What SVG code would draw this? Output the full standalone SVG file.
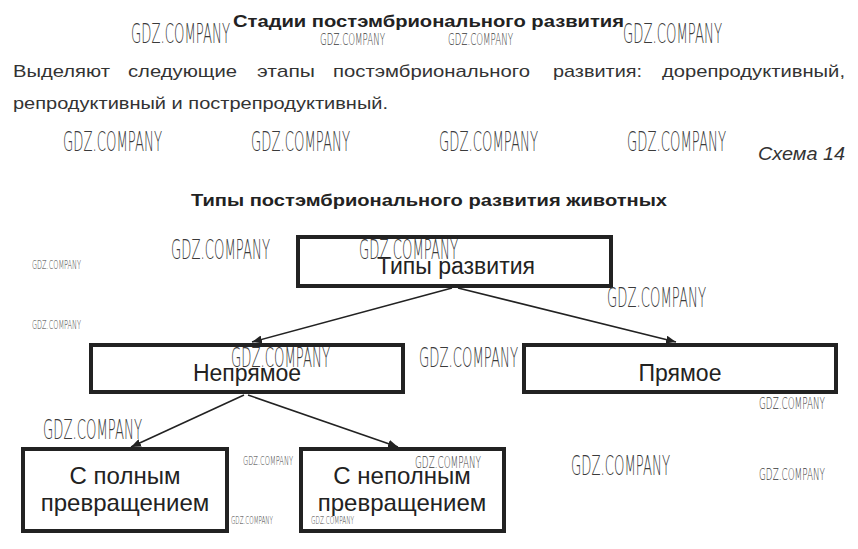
<svg xmlns="http://www.w3.org/2000/svg" width="858" height="549" viewBox="0 0 858 549">
<style>
.bg{fill:#fff}
.h{font-family:"Liberation Sans",Arial,sans-serif;font-weight:bold;font-size:17px;fill:#222}
.p{font-family:"Liberation Sans",Arial,sans-serif;font-size:17px;fill:#333}
.it{font-family:"Liberation Sans",Arial,sans-serif;font-style:italic;font-size:18px;fill:#333}
.box{fill:#fff;stroke:#222;stroke-width:4}
.nt{font-family:"Liberation Sans",Arial,sans-serif;font-size:23px;fill:#222;text-anchor:middle}
.nb{font-family:"Liberation Sans",Arial,sans-serif;font-size:24px;fill:#222;text-anchor:middle}
.edge{stroke:#222;stroke-width:1.6;fill:none;marker-end:url(#ah)}
.wm{font-family:"DejaVu Sans ExtraLight","DejaVu Sans",sans-serif;font-weight:200;fill:#3a3a3a}
.wl{font-size:26px}
.wmd{font-size:16px}
.ws{font-size:12px}
.wt{font-size:10px}
</style>
<defs>
<marker id="ah" viewBox="0 0 10 8" refX="10" refY="4" markerWidth="10" markerHeight="8" markerUnits="userSpaceOnUse" orient="auto">
<path d="M0,0 L10,4 L0,8 Z" fill="#222"/>
</marker>
</defs>
<rect class="bg" x="0" y="0" width="858" height="549"/>

<g id="heading">
<text class="h" x="233" y="27" textLength="391" lengthAdjust="spacingAndGlyphs">Стадии постэмбрионального развития</text>
<text class="p" y="77"><tspan x="13" textLength="97" lengthAdjust="spacingAndGlyphs">Выделяют</tspan><tspan x="128" textLength="109" lengthAdjust="spacingAndGlyphs">следующие</tspan><tspan x="257" textLength="58" lengthAdjust="spacingAndGlyphs">этапы</tspan><tspan x="333" textLength="197" lengthAdjust="spacingAndGlyphs">постэмбрионального</tspan><tspan x="553" textLength="89" lengthAdjust="spacingAndGlyphs">развития:</tspan><tspan x="662" textLength="183" lengthAdjust="spacingAndGlyphs">дорепродуктивный,</tspan></text>
<text class="p" x="13" y="109" textLength="375" lengthAdjust="spacingAndGlyphs">репродуктивный и пострепродуктивный.</text>
<text class="it" x="758" y="160" textLength="87" lengthAdjust="spacingAndGlyphs">Схема 14</text>
<text class="h" x="191" y="206" textLength="476" lengthAdjust="spacingAndGlyphs">Типы постэмбрионального развития животных</text>
</g>

<g id="connectors">
<line class="edge" x1="452" y1="288" x2="252" y2="342"/>
<line class="edge" x1="458" y1="288" x2="676" y2="342"/>
<line class="edge" x1="244" y1="395" x2="131" y2="447"/>
<line class="edge" x1="248" y1="395" x2="398" y2="447"/>
</g>

<g id="node-types">
<rect class="box" x="298" y="237" width="313" height="49"/>
<text class="nt" x="456" y="274">Типы развития</text>
</g>
<g id="node-indirect">
<rect class="box" x="91" y="345" width="312" height="47"/>
<text class="nt" x="247" y="381">Непрямое</text>
</g>
<g id="node-direct">
<rect class="box" x="524" y="345" width="312" height="47"/>
<text class="nt" x="680" y="381">Прямое</text>
</g>
<g id="node-complete">
<rect class="box" x="23" y="449" width="204" height="82"/>
<text class="nb" x="125" y="484">С полным</text>
<text class="nb" x="125" y="511">превращением</text>
</g>
<g id="node-incomplete">
<rect class="box" x="301" y="449" width="203" height="82"/>
<text class="nb" x="402" y="484">С неполным</text>
<text class="nb" x="402" y="511">превращением</text>
</g>

<g id="watermarks" class="wm">
<text class="wl" x="131" y="43" textLength="99" lengthAdjust="spacingAndGlyphs">GDZ.COMPANY</text>
<text class="wmd" x="320" y="45" textLength="65" lengthAdjust="spacingAndGlyphs">GDZ.COMPANY</text>
<text class="wmd" x="448" y="45" textLength="65" lengthAdjust="spacingAndGlyphs">GDZ.COMPANY</text>
<text class="wl" x="623" y="43" textLength="99" lengthAdjust="spacingAndGlyphs">GDZ.COMPANY</text>
<text class="wl" x="63" y="151" textLength="99" lengthAdjust="spacingAndGlyphs">GDZ.COMPANY</text>
<text class="wl" x="251" y="151" textLength="99" lengthAdjust="spacingAndGlyphs">GDZ.COMPANY</text>
<text class="wl" x="439" y="151" textLength="99" lengthAdjust="spacingAndGlyphs">GDZ.COMPANY</text>
<text class="wl" x="627" y="151" textLength="99" lengthAdjust="spacingAndGlyphs">GDZ.COMPANY</text>
<text class="ws" x="32" y="269" textLength="49" lengthAdjust="spacingAndGlyphs">GDZ.COMPANY</text>
<text class="ws" x="32" y="329" textLength="49" lengthAdjust="spacingAndGlyphs">GDZ.COMPANY</text>
<text class="wl" x="171" y="259" textLength="99" lengthAdjust="spacingAndGlyphs">GDZ.COMPANY</text>
<text class="wl" x="359" y="259" textLength="99" lengthAdjust="spacingAndGlyphs">GDZ.COMPANY</text>
<text class="wl" x="607" y="307" textLength="99" lengthAdjust="spacingAndGlyphs">GDZ.COMPANY</text>
<text class="wl" x="231" y="367" textLength="99" lengthAdjust="spacingAndGlyphs">GDZ.COMPANY</text>
<text class="wl" x="419" y="367" textLength="99" lengthAdjust="spacingAndGlyphs">GDZ.COMPANY</text>
<text class="wmd" x="759" y="409" textLength="66" lengthAdjust="spacingAndGlyphs">GDZ.COMPANY</text>
<text class="wl" x="43" y="439" textLength="99" lengthAdjust="spacingAndGlyphs">GDZ.COMPANY</text>
<text class="ws" x="243" y="465" textLength="50" lengthAdjust="spacingAndGlyphs">GDZ.COMPANY</text>
<text class="wmd" x="415" y="468" textLength="66" lengthAdjust="spacingAndGlyphs">GDZ.COMPANY</text>
<text class="wl" x="571" y="475" textLength="99" lengthAdjust="spacingAndGlyphs">GDZ.COMPANY</text>
<text class="wmd" x="759" y="480" textLength="66" lengthAdjust="spacingAndGlyphs">GDZ.COMPANY</text>
<text class="wt" x="231" y="524" textLength="42" lengthAdjust="spacingAndGlyphs">GDZ.COMPANY</text>
<text class="wt" x="311" y="524" textLength="43" lengthAdjust="spacingAndGlyphs">GDZ.COMPANY</text>
</g>
</svg>
